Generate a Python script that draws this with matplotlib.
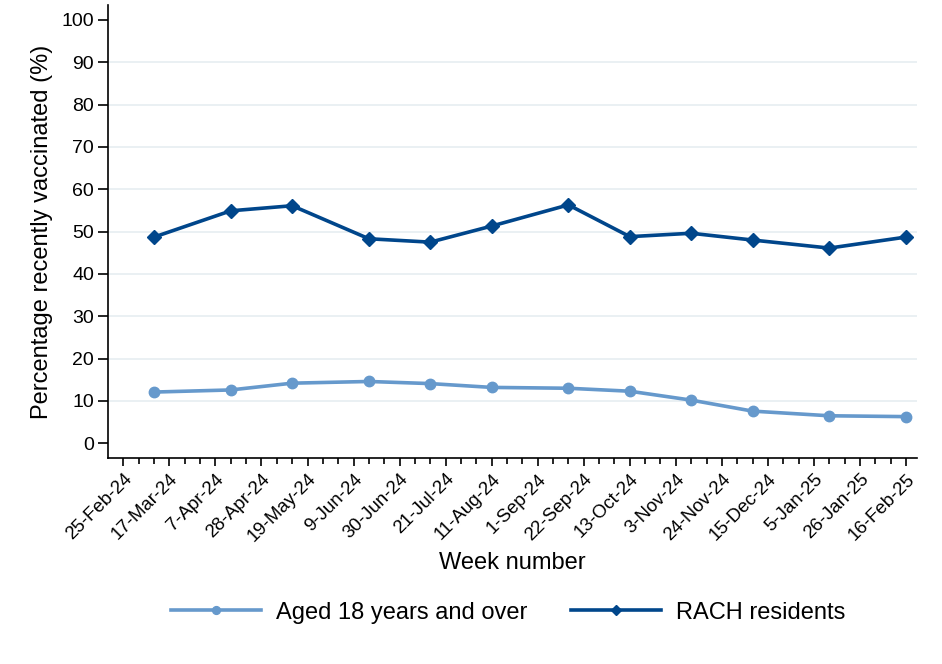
import numpy as np
import matplotlib
matplotlib.use('Agg')
import matplotlib.pyplot as plt
import datetime as dt

plt.rcParams['font.family'] = ['Liberation Sans', 'DejaVu Sans']

# data
semaines = ['2024-03-10', '2024-04-14', '2024-05-12', '2024-06-16', '2024-07-14', '2024-08-11',
            '2024-09-15', '2024-10-13', '2024-11-10', '2024-12-08', '2025-01-12', '2025-02-16']
adultes = [12.1, 12.6, 14.2, 14.6, 14.1, 13.2, 13.0, 12.3, 10.2, 7.6, 6.5, 6.3]
rach = [48.7, 54.9, 56.1, 48.3, 47.5, 51.3, 56.3, 48.8, 49.6, 48.0, 46.1, 48.7]

dates = [dt.datetime.strptime(d, '%Y-%m-%d') for d in semaines]

fig = plt.figure(figsize=(9.42, 6.64), dpi=100)
ax = fig.add_axes([108/942, 1-458/664, (917-108)/942, (458-5)/664])

ax.plot(dates, adultes, color='#6699cc', lw=2.6, marker='o', ms=7.5,
        label='Aged 18 years and over', zorder=3)
ax.plot(dates, rach, color='#00468b', lw=2.6, marker='D', ms=7,
        label='RACH residents', zorder=3)

# axes
debut = dt.datetime(2024, 2, 25)
ax.set_xlim(debut - dt.timedelta(days=7), debut + dt.timedelta(days=362))
ax.set_ylim(-3.47, 103.5)
ax.set_yticks(np.arange(0, 101, 10))
for y in range(10, 100, 10):
	ax.axhline(y, color='#e8eff2', lw=1.3, zorder=0)

majeures = [debut + dt.timedelta(weeks=3*i) for i in range(18)]
mineures = [debut + dt.timedelta(weeks=i) for i in range(52)]
ax.set_xticks(majeures)
ax.set_xticks(mineures, minor=True)
ax.set_xticklabels([f'{d.day}-{d.strftime("%b-%y")}' for d in majeures],
                   rotation=45, ha='right', rotation_mode='anchor', fontsize=13.4)
ax.tick_params(axis='x', which='major', length=6, width=1.2, direction='out', pad=3)
ax.tick_params(axis='x', which='minor', length=4, width=1.2, direction='out')
ax.tick_params(axis='y', length=7, width=1.2, labelsize=14, pad=3)

for s in ['top', 'right']:
	ax.spines[s].set_visible(False)
for s in ['left', 'bottom']:
	ax.spines[s].set_linewidth(1.2)

ax.set_ylabel('Percentage recently vaccinated (%)', fontsize=17, labelpad=6)
ax.set_xlabel('Week number', fontsize=17, labelpad=5)

ax.legend(loc='center', bbox_to_anchor=(508/942, (664-612.7)/664), bbox_transform=fig.transFigure,
          ncol=2, frameon=False, fontsize=17, handlelength=3.8, handletextpad=0.64,
          columnspacing=1.86, markerscale=0.75)

plt.savefig('out.png', dpi=100)
